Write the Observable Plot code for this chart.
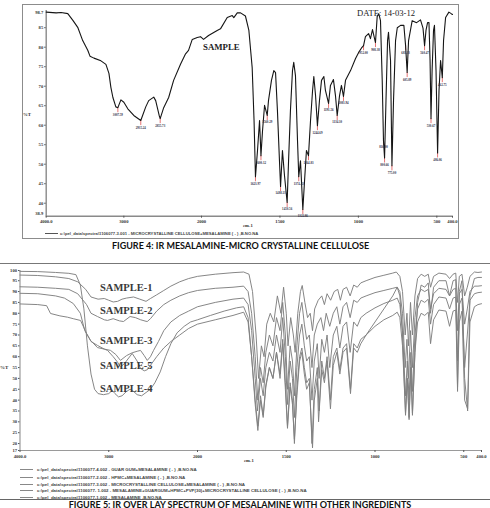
<!DOCTYPE html>
<html><head><meta charset="utf-8">
<script src="https://cdn.jsdelivr.net/npm/d3@7"></script>
<script src="https://cdn.jsdelivr.net/npm/@observablehq/plot@0.6"></script>
<style>
body{margin:0;background:#fff;}
#page{position:relative;width:490px;height:508px;overflow:hidden;background:#fff;}
.abs{position:absolute;white-space:nowrap;}
.cap{font-family:Lato,"Open Sans",sans-serif;font-weight:bold;font-size:9px;color:#111;line-height:7px;}
.serif{font-family:"Liberation Serif",serif;font-weight:bold;}
.leg{font-family:"Liberation Sans",sans-serif;font-weight:bold;font-size:4.4px;line-height:5px;color:#444;}
.legline{position:absolute;height:0;border-top:1px solid #888;}
</style></head><body><div id="page"></div>
<script>
// ---------- FIGURE 4 data ----------
const fig4Spectrum = [[4000,89.0],[3872,88.8],[3808,88.9],[3722,88.6],[3654,86.8],[3594,85.1],[3530,81.7],[3465,79.2],[3436,77.7],[3385,77.2],[3295,76.5],[3231,75.6],[3192,73.3],[3167,69.7],[3141,67.1],[3103,64.7],[3077,64.5],[3038,66.5],[3000,65.9],[2949,64.2],[2872,62.5],[2782,61.2],[2718,64.7],[2680,66.3],[2615,67.2],[2590,66.3],[2545,62.5],[2532,61.7],[2487,64.5],[2423,67.1],[2359,71.5],[2269,75.7],[2205,78.3],[2167,79.2],[2119,82.0],[2055,82.5],[2013,82.7],[1987,82.0],[1955,83.0],[1900,84.3],[1879,84.7],[1836,87.6],[1804,88.1],[1794,87.6],[1772,88.8],[1751,88.8],[1720,88.0],[1698,84.3],[1677,74.8],[1665,61.2],[1656,46.8],[1643,53.5],[1630,61.2],[1621,52.2],[1611,58.6],[1598,65.1],[1581,62.5],[1573,66.3],[1554,71.5],[1539,74.0],[1528,73.5],[1516,63.8],[1503,50.9],[1496,44.3],[1484,53.5],[1471,47.1],[1454,40.2],[1445,50.9],[1433,63.8],[1420,74.0],[1412,76.1],[1401,72.7],[1388,56.1],[1380,46.8],[1369,50.9],[1354,38.4],[1343,45.8],[1331,53.5],[1318,52.2],[1305,61.2],[1292,68.9],[1284,72.5],[1273,67.6],[1261,59.9],[1248,66.3],[1235,71.5],[1220,72.5],[1210,68.9],[1190,65.6],[1178,70.2],[1159,71.7],[1146,67.6],[1135,62.5],[1120,67.6],[1108,70.2],[1095,67.4],[1082,71.5],[1050,74.0],[1018,77.1],[999,78.6],[980,79.8],[967,80.4],[955,82.7],[935,83.5],[923,82.2],[910,84.5],[891,81.2],[880,87.9],[870,88.6],[859,86.8],[848,71.5],[840,56.1],[833,51.6],[824,66.3],[814,81.7],[808,83.8],[795,76.6],[786,49.6],[776,66.3],[763,81.7],[752,85.0],[731,85.6],[710,85.6],[699,80.4],[689,73.5],[680,81.7],[657,86.8],[629,86.3],[604,87.0],[588,84.9],[578,80.4],[569,84.3],[559,86.3],[550,86.3],[543,76.6],[537,61.7],[530,74.0],[521,84.3],[515,85.6],[505,74.0],[495,52.9],[486,68.9],[476,76.6],[465,72.2],[457,81.7],[444,87.6],[423,89.0],[408,88.6],[400,88.4]];
const fig4Peaks = [[3077,64.5,"3007.59"],[2782,61.2,"2935.24"],[2532,61.7,"2855.73"],[1656,46.8,"1623.97"],[1621,52.2,"1600.12"],[1581,62.5,"1560.29"],[1496,44.3,"1488.13"],[1454,40.2,"1450.56"],[1380,46.8,"1374.43"],[1354,38.4,"1322.86"],[1318,52.2,"1264.83"],[1261,59.9,"1244.69"],[1190,65.6,"1191.56"],[1135,62.5,"1134.10"],[1095,67.4,"1083.94"],[967,80.4,"952.00"],[891,81.2,"908.38"],[840,56.1,"816.00"],[833,51.6,"800.66"],[786,49.6,"775.00"],[699,80.4,"681.33"],[689,73.5,"605.89"],[578,80.4,"560.47"],[537,61.7,"530.67"],[495,52.9,"486.06"],[465,72.2,"462.75"]];
const fig4XTicks = [4000, 3000, 2000, 1500, 1000, 500, 400];
const fig4XLabels = ["4000.0", "3000", "2000", "1500", "1000", "500", "400.0"];
const fig4YTicks = [40, 45, 50, 55, 60, 65, 70, 75, 80, 85];
const fig4YEnds = ["98.7", "38.9"];
const fig4Legend = "c:\\pel_data\\spectra\\1106077-3.001 - MICROCRYSTALLINE CELLULOSE+MESALAMINE ( - ) ,B.NO.NA";

// ---------- FIGURE 5 data ----------
const sample1 = [[4000,97.6],[3800,97.4],[3600,96.8],[3450,96],[3350,94.5],[3260,91],[3200,87.5],[3120,86.5],[3050,86.8],[3000,86],[2950,85.2],[2900,85.5],[2850,86.5],[2800,87],[2720,87.5],[2650,86.5],[2580,85.5],[2530,86.8],[2460,88.5],[2380,90.5],[2300,92.5],[2200,94.5],[2100,96],[2000,97],[1900,98],[1800,98.7],[1740,99],[1710,98],[1690,90],[1670,70],[1656,50],[1640,65],[1625,60],[1610,75],[1590,80],[1570,76],[1550,88],[1530,80],[1515,92],[1500,80],[1490,65],[1475,78],[1460,70],[1450,62],[1435,80],[1420,90],[1410,92.8],[1395,85],[1380,78],[1365,80],[1352,72],[1340,82],[1320,86],[1300,88],[1285,84],[1270,89],[1250,86],[1230,90],[1210,91],[1195,86],[1180,91],[1160,92],[1140,88],[1120,93],[1100,92],[1080,94],[1050,95],[1000,96.5],[950,97.5],[900,98.5],[880,99],[860,97],[845,90],[830,70],[820,80],[811,65],[800,85],[789,70],[775,88],[760,96],[740,98],[720,97],[700,98],[687,92],[670,97],[640,98.5],[600,98],[580,96],[560,98],[545,98.5],[535,85],[525,97],[510,98],[495,88],[480,92],[465,97],[440,99],[420,98.8],[400,99]];
const sample2 = [[4000,92.2],[3800,92],[3600,91.5],[3450,91],[3350,89],[3250,84],[3200,80],[3127,78.5],[3050,77],[3014,76.7],[2950,77.5],[2880,76.5],[2834,76.2],[2760,78.5],[2700,78],[2640,77],[2580,76.3],[2566,76.2],[2530,77.5],[2460,81],[2380,84],[2300,86],[2200,88],[2100,89.5],[2000,90.5],[1900,91.5],[1800,92],[1740,92.5],[1715,90],[1695,80],[1675,60],[1660,40],[1645,55],[1630,48],[1615,62],[1595,70],[1575,65],[1555,78],[1535,72],[1520,85],[1505,70],[1493,45],[1478,65],[1465,58],[1454,42],[1440,65],[1425,80],[1412,85],[1398,75],[1385,68],[1370,70],[1355,55],[1342,70],[1325,75],[1305,78],[1290,72],[1275,80],[1255,74],[1235,80],[1215,83],[1198,75],[1180,83],[1160,85],[1140,78],[1120,86],[1100,85],[1080,87],[1050,88],[1000,89.5],[950,90.5],[900,91.5],[875,92],[860,90],[845,80],[830,55],[820,68],[811,50],[800,72],[789,55],[775,78],[760,88],[740,91],[720,90],[700,91],[687,82],[670,89],[640,91.5],[600,91],[580,88],[560,91],[545,91.5],[535,72],[525,89],[510,91],[495,75],[480,82],[465,90],[440,92.5],[420,92.5],[400,92.7]];
const sample3 = [[4000,89.2],[3800,89],[3600,88],[3500,87],[3400,84.5],[3320,80],[3270,72],[3205,67.5],[3127,64.2],[3050,63.5],[2980,62.9],[2920,61],[2868,58.3],[2800,60.5],[2736,61.8],[2680,62.5],[2642,62.9],[2600,60.5],[2566,58.3],[2530,60],[2495,62.9],[2440,67],[2380,72],[2300,76],[2200,79],[2100,81],[2000,83],[1900,85],[1800,86.5],[1740,87],[1715,84],[1695,72],[1675,50],[1662,35],[1645,50],[1630,42],[1615,55],[1595,62],[1575,58],[1555,70],[1535,62],[1520,78],[1505,60],[1493,38],[1478,58],[1465,50],[1454,32],[1440,55],[1425,70],[1412,75],[1398,65],[1385,58],[1370,60],[1355,40],[1342,58],[1325,66],[1315,50],[1300,68],[1285,62],[1270,70],[1255,55],[1235,70],[1215,74],[1198,64],[1180,74],[1160,76],[1140,62],[1120,76],[1100,74],[1080,78],[1050,80],[1000,82.5],[950,84.5],[900,86],[875,87],[860,84],[845,72],[828,42],[818,58],[808,40],[798,62],[789,44],[775,70],[760,82],[740,86],[720,85],[700,86.5],[687,75],[670,84],[640,87.5],[600,87],[580,82],[560,87],[545,87.5],[535,58],[525,84],[510,87],[495,55],[480,70],[465,86],[440,89],[420,89.5],[400,89.7]];
const sample5 = [[4000,84.3],[3800,84],[3700,83.5],[3656,79.9],[3550,78.8],[3465,78.2],[3400,77.5],[3318,76.7],[3250,70.7],[3200,67],[3127,65.2],[3050,63.5],[3014,62.9],[2950,60],[2901,57.5],[2868,55.2],[2820,57],[2736,61.5],[2680,58],[2642,54.6],[2600,53.5],[2566,54],[2530,56],[2495,58],[2460,60],[2380,64],[2300,67],[2200,70],[2100,73],[2000,75],[1900,77],[1800,79],[1740,80.5],[1715,76],[1695,60],[1675,40],[1660,28],[1645,42],[1630,33],[1615,47],[1595,55],[1575,50],[1555,62],[1535,52],[1520,68],[1505,48],[1493,28],[1478,48],[1465,40],[1454,20],[1440,45],[1425,60],[1412,64],[1398,55],[1385,48],[1370,50],[1355,20],[1342,45],[1325,55],[1315,35],[1300,58],[1285,50],[1270,60],[1251,40],[1235,60],[1215,64],[1198,54],[1180,64],[1160,66],[1138,45],[1120,66],[1100,64],[1080,68],[1050,70],[1000,74],[950,77],[900,79],[875,80.5],[860,78],[845,65],[828,34],[818,50],[808,32],[798,55],[789,34],[775,62],[760,76],[740,80],[720,79],[700,80.5],[687,66],[670,77],[640,81.5],[600,81],[580,74],[560,81],[545,81.5],[535,46],[525,76],[510,81],[495,40],[478,36],[465,76],[440,83],[420,84],[400,84.4]];
const sample4 = [[4000,99.3],[3800,99.2],[3600,98.8],[3450,98.4],[3370,97.8],[3320,93],[3280,82],[3240,65],[3200,52],[3160,45],[3120,43],[3060,42.5],[3000,43],[2960,44.5],[2930,43],[2890,41.5],[2850,42],[2800,44],[2760,45],[2720,44],[2680,42.5],[2630,42],[2580,43.5],[2530,45],[2480,48],[2420,53],[2360,60],[2300,66],[2230,71],[2150,74],[2078,76],[2000,77],[1927,79],[1850,81],[1780,82.5],[1740,83],[1715,78],[1695,60],[1675,38],[1660,26],[1645,40],[1630,32],[1615,46],[1595,55],[1575,50],[1555,62],[1535,50],[1520,66],[1505,45],[1493,27],[1478,46],[1465,38],[1454,22],[1440,42],[1425,58],[1412,62],[1398,52],[1385,45],[1370,48],[1352,18],[1342,40],[1325,50],[1318,30],[1300,54],[1285,48],[1270,58],[1251,36],[1235,56],[1215,62],[1198,52],[1180,62],[1160,64],[1138,43],[1120,64],[1100,62],[1080,66],[1050,70],[1000,76],[950,82],[900,88],[875,92],[860,88],[845,70],[828,33],[818,50],[808,31],[798,55],[789,33],[775,62],[760,85],[740,93],[720,92],[700,94],[687,80],[670,92],[640,95],[600,95],[580,88],[560,95],[545,95.5],[535,44],[525,90],[510,95],[495,50],[478,35],[465,88],[440,96],[420,96.5],[400,96.5]];
const fig5Series = [sample1, sample2, sample3, sample5, sample4];
const fig5XTicks = [4000, 3000, 2000, 1500, 1000, 500, 400];
const fig5XLabels = ["4000.0", "3000", "2000", "1500", "1000", "500", "400.0"];
const fig5YTicks = [16.8, 20, 25, 30, 35, 40, 45, 50, 55, 60, 65, 70, 75, 80, 85, 90, 95, 99.7];
const fig5SampleNames = ["SAMPLE-1", "SAMPLE-2", "SAMPLE-3", "SAMPLE-5", "SAMPLE-4"];
const fig5Legend = [
  "c:\\pel_data\\spectra\\1106077-4.002 - GUAR GUM+MESALAMINE ( - ) ,B.NO.NA",
  "c:\\pel_data\\spectra\\1106077-2.002 - HPMC+MESALAMINE ( - ) ,B.NO.NA",
  "c:\\pel_data\\spectra\\1106077-3.002 - MICROCRYSTALLINE CELLULOSE+MESALAMINE ( - ) ,B.NO.NA",
  "c:\\pel_data\\spectra\\1106077- 1.002 - MESALAMINE+GUARGUM+HPMC+PVP(30)+MICROCRYSTALLINE CELLULOSE ( - ) ,B.NO.NA",
  "c:\\pel_data\\spectra\\1106077-1.002 - MESALAMINE  ,B.NO.NA"
];
const captions = ["FIGURE 4: IR MESALAMINE-MICRO CRYSTALLINE CELLULOSE", "FIGURE 5: IR OVER LAY SPECTRUM OF MESALAMINE WITH OTHER INGREDIENTS"];

// ---------- build ----------
const page = document.getElementById("page");
function addDiv(cls, html, style) {
  const d = document.createElement("div");
  d.className = "abs " + cls;
  d.textContent = html;
  Object.assign(d.style, style);
  page.appendChild(d);
  return d;
}
const axisStyle = {fontFamily: "'Liberation Serif', serif", fontSize: "4.6px", fontWeight: "bold", color: "#333", background: "transparent", overflow: "visible"};

// Figure 4 box
const box = document.createElement("div");
Object.assign(box.style, {position: "absolute", left: "22px", top: "4px", width: "435px", height: "233px", border: "1px solid #8c8c8c"});
page.appendChild(box);

const f4 = Plot.plot({
  width: 490, height: 250,
  marginLeft: 45.7, marginRight: 38, marginTop: 10, marginBottom: 34.3,
  style: axisStyle,
  x: {type: "linear", domain: [4000, 2000, 400], range: [45.7, 201, 452]},
  y: {domain: [36.67, 89.41], range: [215.7, 10]},
  marks: [
    Plot.ruleY([36.67], {stroke: "#8a8a8a", strokeWidth: 1.6}),
    Plot.ruleX([4000], {stroke: "#8a8a8a", strokeWidth: 1.4}),
    Plot.axisY({ticks: fig4YTicks, tickSize: 1.5, tickPadding: 1.5, label: null, stroke: "#555"}),
    Plot.text([fig4YEnds[0]], {frameAnchor: "top-left", text: d => d, dx: -3, textAnchor: "end", fill: "#333"}),
    Plot.text([fig4YEnds[1]], {frameAnchor: "bottom-left", text: d => d, dx: -3, dy: -1.5, textAnchor: "end", fill: "#333"}),
    Plot.axisX({ticks: fig4XTicks, tickFormat: d => fig4XLabels[fig4XTicks.indexOf(d)], tickSize: 2, tickPadding: 1.5, label: null, stroke: "#555"}),
    Plot.ruleX(fig4Peaks, {x: d => d[0], y1: d => d[1], y2: d => d[1] - 1.3, stroke: "#e57373", strokeWidth: 1}),
    Plot.line(fig4Spectrum, {x: d => d[0], y: d => d[1], stroke: "#151515", strokeWidth: 1.1}),
    Plot.text(fig4Peaks, {x: d => d[0], y: d => d[1], text: d => d[2], dy: 7, fontSize: 3.1, fill: "#2a2a44"})
  ]
});
Object.assign(f4.style, {position: "absolute", left: "0px", top: "0px"});
page.appendChild(f4);

addDiv("serif", "%T", {left: "23px", top: "112px", fontSize: "4.8px", color: "#333"});
addDiv("serif", "cm-1", {left: "243px", top: "223px", fontSize: "4.6px", color: "#333"});
addDiv("serif", "SAMPLE", {left: "203px", top: "42px", fontSize: "8.8px", color: "#222"});
addDiv("serif", "DATE: 14-03-12", {left: "357px", top: "8px", fontSize: "8.6px", color: "#222", fontWeight: "normal"});
const l4 = document.createElement("div"); l4.className = "legline";
Object.assign(l4.style, {left: "45px", top: "233px", width: "13px", borderTopColor: "#555"}); page.appendChild(l4);
addDiv("leg", fig4Legend, {left: "60px", top: "230.5px", fontSize: "4.2px"});
addDiv("cap", captions[0], {left: "0px", width: "481px", textAlign: "center", top: "242px"});

// Figure 5 rules
const r1 = document.createElement("div"); r1.className = "legline";
Object.assign(r1.style, {left: "0px", top: "262.5px", width: "490px", borderTop: "1.5px solid #777"}); page.appendChild(r1);
const r2 = document.createElement("div"); r2.className = "legline";
Object.assign(r2.style, {left: "0px", top: "498.5px", width: "490px", borderTop: "1px solid #666"}); page.appendChild(r2);

const f5 = Plot.plot({
  width: 490, height: 210,
  marginLeft: 19.5, marginRight: 9, marginTop: 15, marginBottom: 15,
  style: axisStyle,
  x: {type: "linear", domain: [4000, 2000, 400], range: [19.5, 197, 481]},
  y: {domain: [16.8, 99.7], range: [195, 15]},
  marks: [
    Plot.ruleY([16.8], {stroke: "#9a9a9a", strokeWidth: 1.2}),
    Plot.ruleX([4000], {stroke: "#9a9a9a", strokeWidth: 1.2}),
    Plot.axisY({ticks: fig5YTicks, tickSize: 1.5, tickPadding: 1.5, label: null, stroke: "#555"}),
    Plot.axisX({ticks: fig5XTicks, tickFormat: d => fig5XLabels[fig5XTicks.indexOf(d)], tickSize: 2, tickPadding: 2, label: null, stroke: "#555"}),
    ...fig5Series.map(s => Plot.line(s, {x: d => d[0], y: d => d[1], stroke: "#808080", strokeWidth: 0.95}))
  ]
});
Object.assign(f5.style, {position: "absolute", left: "0px", top: "255px"});
page.appendChild(f5);

addDiv("serif", "%T", {left: "0px", top: "365px", fontSize: "5px", color: "#333"});
addDiv("serif", "cm-1", {left: "244px", top: "458px", fontSize: "4.6px", color: "#333"});
const sampleTops = [282, 305, 335, 360, 383];
fig5SampleNames.forEach((n, i) => addDiv("serif", n, {left: "100px", top: sampleTops[i] + "px", fontSize: "10.5px", color: "#3a3a3a"}));
const legTops = [467, 474.5, 481.5, 488, 494.5];
fig5Legend.forEach((t, i) => {
  const l = document.createElement("div"); l.className = "legline";
  Object.assign(l.style, {left: "20px", top: (legTops[i] + 2) + "px", width: "13px"}); page.appendChild(l);
  addDiv("leg", t, {left: "37px", top: legTops[i] + "px"});
});
addDiv("cap", captions[1], {left: "0px", width: "480px", textAlign: "center", top: "500.5px"});
</script></body></html>
